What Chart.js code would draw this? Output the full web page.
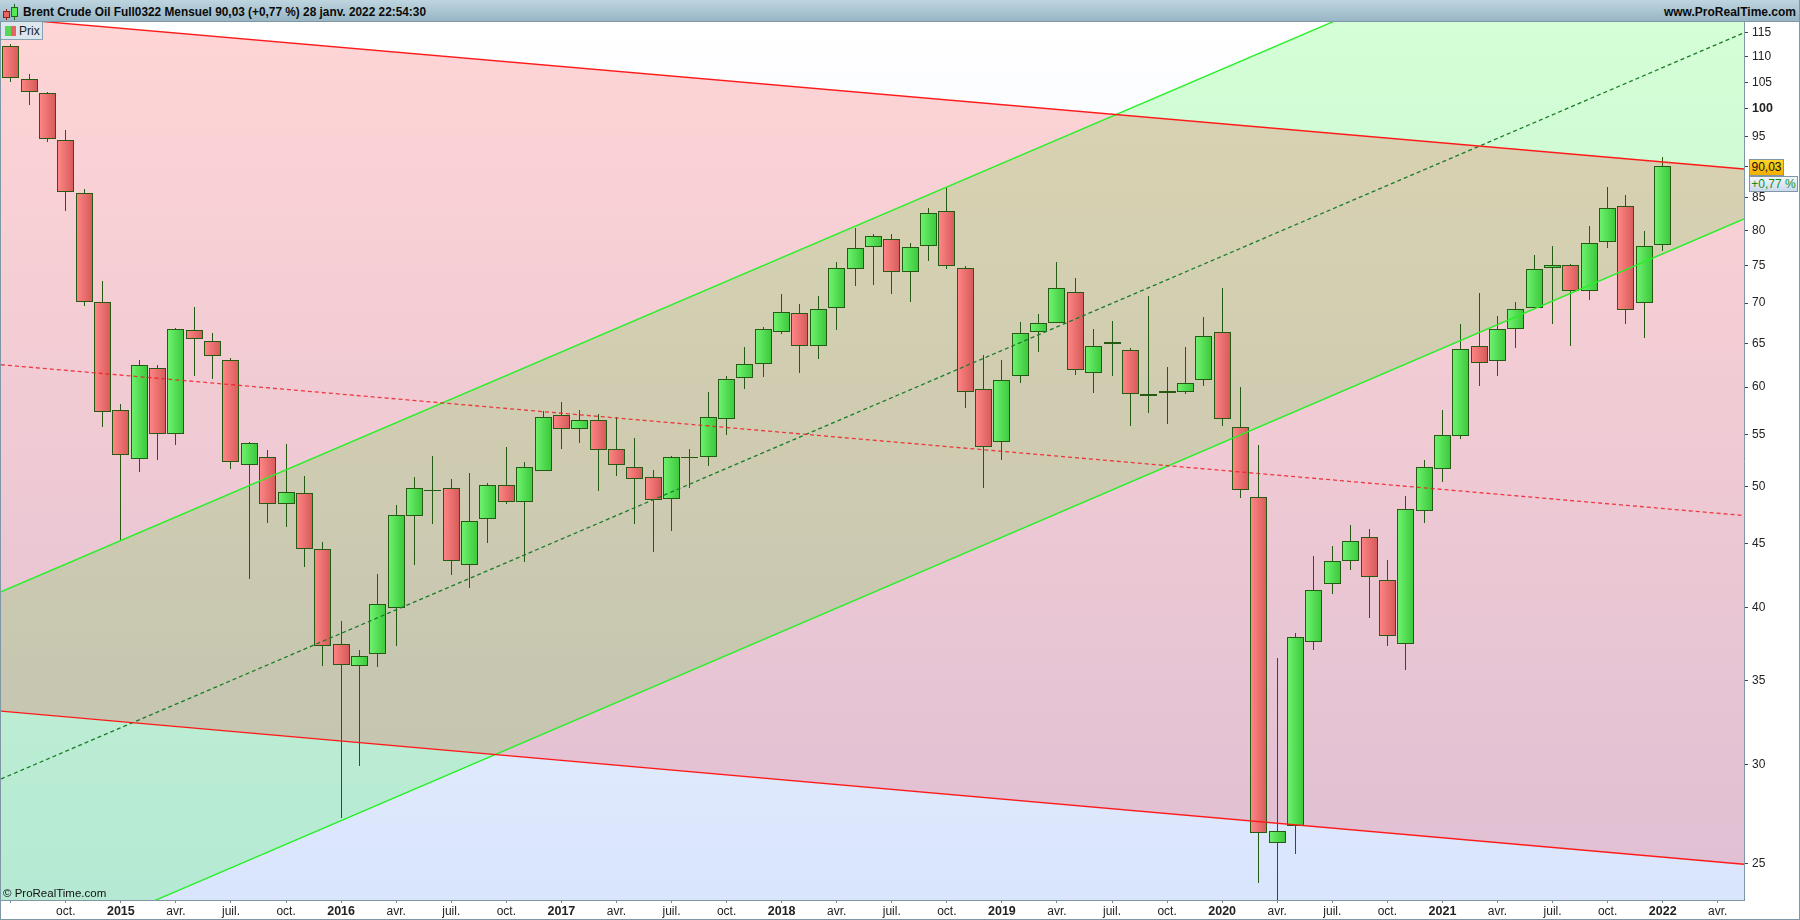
<!DOCTYPE html>
<html lang="fr">
<head>
<meta charset="utf-8">
<title>Brent Crude Oil</title>
<script src="https://cdn.jsdelivr.net/npm/chart.js@4"></script>
<style>
html,body{margin:0;padding:0;background:#fff;overflow:hidden}
#wrap{position:relative;width:1800px;height:920px;font-family:"Liberation Sans",Arial,sans-serif;color:#000}
canvas{position:absolute;left:0;top:0}
.abs{position:absolute;white-space:nowrap;box-sizing:border-box}
#head{left:0;top:0;width:1800px;height:22px;background:linear-gradient(#bed5e0,#98b6c4);border-bottom:1px solid #7f97a5}
#title{left:23px;top:5px;font-size:11.85px;font-weight:bold;line-height:14px;color:#0a0a0a}
#site{right:4px;top:5px;font-size:12px;font-weight:bold;line-height:14px;color:#0a0a0a}
#chip{left:0;top:22px;width:43px;height:18px;background:#dbe7ec;border:1px solid #8aa3b2;border-left:none;border-top:none}
#chipG{left:5px;top:25.5px;width:6px;height:10px;background:#55d855}
#chipR{left:11px;top:25.5px;width:5px;height:10px;background:#e86464}
#chipT{left:19px;top:24px;font-size:12px;line-height:14px;color:#222}
#copy{left:3px;top:886px;font-size:11.5px;line-height:14px;color:#111}
#tagP{left:1749px;top:159px;width:35px;height:17px;background:linear-gradient(#ffd42a,#f1ae00);border:1px solid #7f97a5;font-size:12px;line-height:15px;text-align:center;color:#111}
#tagC{left:1749px;top:176px;width:49px;height:16px;background:linear-gradient(#f4f6fb,#cbd9ee);border:1px solid #7f97a5;font-size:12px;line-height:14px;text-align:center;color:#159015}
#frameL{left:0;top:22px;width:1px;height:898px;background:#7f97a5}
#frameR{left:1799px;top:0;width:1px;height:920px;background:#7f97a5}
#frameB{left:0;top:919px;width:1800px;height:1px;background:#7f97a5}
.mini{position:absolute;box-sizing:border-box}
</style>
</head>
<body>
<div id="wrap">
<canvas id="c" width="1800" height="920"></canvas>
<div class="abs" id="head"></div>
<div class="mini" style="left:6px;top:9px;width:1px;height:11px;background:#8c2020"></div>
<div class="mini" style="left:3px;top:11px;width:7px;height:7px;background:#e86464;border:1px solid #8c2020"></div>
<div class="mini" style="left:14px;top:4px;width:1px;height:16px;background:#1d6a1d"></div>
<div class="mini" style="left:11px;top:7px;width:7px;height:10px;background:#55e855;border:1px solid #1d6a1d"></div>
<div class="abs" id="title">Brent Crude Oil Full0322 Mensuel 90,03 (+0,77 %) 28 janv. 2022 22:54:30</div>
<div class="abs" id="site">www.ProRealTime.com</div>
<div class="abs" id="chip"></div>
<div class="abs" id="chipG"></div>
<div class="abs" id="chipR"></div>
<div class="abs" id="chipT">Prix</div>
<div class="abs" id="copy">© ProRealTime.com</div>
<div class="abs" id="tagP">90,03</div>
<div class="abs" id="tagC">+0,77 %</div>
<div class="abs" id="frameL"></div>
<div class="abs" id="frameR"></div>
<div class="abs" id="frameB"></div>
</div>
<script>
// Monthly candles, first candle = juil. 2014, last = janv. 2022
const opens  = [112.25,105.65,102.98,94.44,85.74,70.13,57.57,52.63,62.18,55.04,66.66,65.30,63.10,51.96,52.82,48.37,49.42,44.59,37.45,35.94,36.76,39.99,47.33,49.57,49.85,43.27,47.07,50.13,48.63,51.47,57.05,55.57,56.52,53.59,51.86,50.90,48.89,52.71,52.82,56.64,61.03,62.64,66.41,68.76,64.70,69.38,74.53,77.63,78.76,74.13,77.77,82.93,74.67,59.79,54.27,61.26,66.41,67.52,71.47,61.60,65.17,64.24,59.05,59.37,59.47,60.80,66.41,55.74,49.07,26.00,26.80,37.59,41.78,43.57,45.58,42.10,37.45,47.76,51.67,54.85,64.70,62.98,66.78,69.38,74.67,75.07,71.60,78.34,83.62,70.00,77.91];
const highs  = [112.73,106.69,103.23,96.25,86.38,72.97,58.21,63.02,62.44,66.91,69.50,66.29,63.33,54.27,53.50,54.10,50.93,45.17,39.05,37.06,42.58,48.31,50.83,52.86,50.70,51.22,50.32,53.72,52.34,57.47,58.34,57.50,57.08,56.76,54.68,51.53,52.92,53.59,59.50,61.26,64.62,67.03,71.20,69.88,70.93,75.50,80.39,79.47,79.47,78.20,83.38,86.59,74.93,63.67,63.10,67.65,68.64,75.50,73.33,66.78,67.69,64.47,70.93,62.29,64.59,68.27,72.00,60.03,53.91,36.50,38.21,43.99,44.84,46.62,46.27,43.67,49.09,52.47,57.50,67.32,71.33,68.39,70.13,76.49,77.77,75.21,80.65,86.65,85.36,79.90,91.56];
const lows   = [105.10,100.77,94.03,82.86,69.70,55.74,45.26,51.34,52.50,53.94,61.21,60.87,51.63,42.22,46.77,46.42,43.15,35.98,27.22,29.90,35.92,37.28,43.31,46.68,42.53,41.52,45.03,48.42,43.54,51.40,53.55,54.13,49.56,50.96,46.65,44.32,46.07,49.90,51.92,55.00,59.85,61.10,66.11,61.63,63.16,66.61,72.21,72.35,71.15,70.21,75.58,74.53,57.74,49.90,52.50,60.41,63.97,67.45,61.33,59.32,61.21,55.84,57.26,56.05,59.29,60.18,55.84,48.95,24.14,23.20,25.47,37.01,41.05,42.92,39.28,37.28,35.70,46.77,50.44,54.52,60.17,61.21,64.43,69.32,67.35,64.66,70.35,77.43,67.35,65.62,77.01];
const closes = [105.77,103.17,94.61,85.85,70.13,57.36,53.02,62.48,55.04,66.78,65.54,63.55,52.25,54.17,48.37,49.50,44.59,37.31,36.00,36.62,40.30,47.41,49.85,49.66,43.57,46.89,50.13,48.63,51.86,56.84,55.57,56.52,53.50,52.05,50.70,48.81,52.73,52.80,56.84,60.92,62.64,66.78,68.89,64.70,69.26,74.67,77.49,79.19,74.13,77.63,82.63,74.93,59.47,53.79,60.80,66.29,67.50,72.00,61.95,64.70,64.93,59.26,59.26,59.58,60.43,65.92,56.64,49.68,26.45,26.55,37.93,41.32,43.57,45.21,42.33,38.00,47.94,51.77,54.93,64.36,62.75,66.78,69.26,74.53,75.07,71.60,78.20,83.44,69.13,77.77,90.03];

// Trend lines: [month index, price] at both ends of the plot
const upperGreen = [[-0.53,41.21],[94.43,162.1]];
const midGreen   = [[-0.53,29.22],[94.43,115.0]];
const lowerGreen = [[-0.53,20.71],[94.43,81.71]];
const upperRed   = [[-0.53,118.19],[94.43,89.55]];
const midRed     = [[-0.53,62.52],[94.43,47.40]];
const lowerRed   = [[-0.53,33.10],[94.43,24.99]];

// Axes
const xTickValues = [0,3,6,9,12,15,18,21,24,27,30,33,36,39,42,45,48,51,54,57,60,63,66,69,72,75,78,81,84,87,90,93];
const xTickLabels = ['','oct.','2015','avr.','juil.','oct.','2016','avr.','juil.','oct.','2017','avr.','juil.','oct.','2018','avr.','juil.','oct.','2019','avr.','juil.','oct.','2020','avr.','juil.','oct.','2021','avr.','juil.','oct.','2022','avr.'];
const yTickValues = [25,30,35,40,45,50,55,60,65,70,75,80,85,90,95,100,105,110,115];
const yHiddenLabels = [90];
const yBoldLabels = [100];
const xRange = [-0.53,94.43];
const yRange = [23.40,117.3];

const toXY = a => a.map(p => ({x:p[0],y:p[1]}));
const FONT = '"Liberation Sans",Arial,sans-serif';
const AXIS = '#7f97a5', WICK = '#255a12';

function bodyFill(ctx){
  const fallback = '#55d855';
  if(!ctx.raw) return fallback;
  const up = closes[ctx.dataIndex] >= opens[ctx.dataIndex];
  const px = ctx.chart.scales.x.getPixelForValue(ctx.raw.x);
  if(!Number.isFinite(px)) return fallback;
  const g = ctx.chart.ctx.createLinearGradient(px-8,0,px+8,0);
  g.addColorStop(0, up ? '#6ef26e' : '#ff8686');
  g.addColorStop(1, up ? '#3cc83c' : '#d65a5a');
  return g;
}

const crispBars = {
  id:'crispBars',
  afterDatasetsUpdate(chart){
    chart.getSortedVisibleDatasetMetas().forEach(m=>{
      if(m.type!=='bar') return;
      m.data.forEach(el=>{
        el.x = Math.floor(el.x)+0.5;
        el.y = Math.round(el.y);
        el.base = Math.round(el.base);
        if(el.y===el.base) el.base = el.y+1;
        el.height = el.base-el.y;
      });
    });
  }
};
const paperGradient = {
  id:'paperGradient',
  beforeDraw(chart){
    const {ctx,chartArea:a} = chart;
    const g = ctx.createLinearGradient(0,a.top,0,a.bottom);
    g.addColorStop(0,'#ffffff');
    g.addColorStop(1,'#d9e5fd');
    ctx.save();
    ctx.fillStyle = g;
    ctx.fillRect(a.left,a.top,a.right-a.left,a.bottom-a.top);
    ctx.restore();
  }
};
const line = (label,data,extra) => Object.assign({type:'line',label,data:toXY(data),pointRadius:0,borderWidth:1.4,tension:0,fill:false},extra);

new Chart(document.getElementById('c'),{
  type:'bar',
  data:{datasets:[
    line('Canal haut vert',upperGreen,{borderColor:'#28f028',order:-1,fill:{target:1,above:'rgba(0,255,0,0.165)',below:'rgba(0,255,0,0.165)'}}),
    line('Canal bas vert',lowerGreen,{borderColor:'#28f028',order:-1}),
    line('Médiane verte',midGreen,{borderColor:'rgba(25,125,40,1)',borderWidth:1.3,borderDash:[4,3],order:-1}),
    line('Canal haut rouge',upperRed,{borderColor:'#ff1a1a',order:-2,fill:{target:4,above:'rgba(255,0,0,0.165)',below:'rgba(255,0,0,0.165)'}}),
    line('Canal bas rouge',lowerRed,{borderColor:'#ff1a1a',order:-2}),
    line('Médiane rouge',midRed,{borderColor:'rgba(240,30,40,0.85)',borderWidth:1.3,borderDash:[4,3],order:-2}),
    {label:'Corps',data:opens.map((o,i)=>({x:i,y:[o,closes[i]]})),backgroundColor:bodyFill,borderColor:WICK,borderWidth:1,borderSkipped:false,inflateAmount:0,barThickness:17,grouped:false,order:1},
    {label:'Mèches',data:lows.map((l,i)=>({x:i,y:[l,highs[i]]})),backgroundColor:WICK,borderWidth:0,inflateAmount:0,barThickness:1,grouped:false,order:2}
  ]},
  options:{
    responsive:false,
    animation:false,
    devicePixelRatio:1,
    layout:{padding:{left:1,right:1,top:22,bottom:1}},
    plugins:{legend:{display:false},tooltip:{enabled:false},title:{display:false},filler:{drawTime:'beforeDatasetsDraw'}},
    events:[],
    scales:{
      x:{
        type:'linear',offset:false,min:xRange[0],max:xRange[1],position:'bottom',
        afterBuildTicks:s=>{s.ticks = xTickValues.map(v=>({value:v}));},
        afterFit:s=>{s.height = 19;},
        grid:{drawOnChartArea:false,tickLength:3,tickColor:'#6f8795',offset:false},
        border:{color:AXIS,width:1},
        ticks:{
          autoSkip:false,maxRotation:0,minRotation:0,padding:1,color:'#222',
          callback:v=>xTickLabels[xTickValues.indexOf(v)],
          font:c=>{const bold=c.tick&&/^\d/.test(xTickLabels[xTickValues.indexOf(c.tick.value)]||'');return {family:FONT,size:bold?12.5:12,weight:bold?'bold':'normal'};}
        }
      },
      y:{
        type:'logarithmic',min:yRange[0],max:yRange[1],position:'right',
        afterBuildTicks:s=>{s.ticks = yTickValues.map(v=>({value:v}));},
        afterFit:s=>{s.width = 55;},
        grid:{drawOnChartArea:false,tickLength:4,tickColor:'#444'},
        border:{color:AXIS,width:1},
        ticks:{
          autoSkip:false,padding:4,color:'#222',
          callback:v=>yHiddenLabels.includes(v)?'':String(v),
          font:c=>{const bold=c.tick&&yBoldLabels.includes(c.tick.value);return {family:FONT,size:bold?12.5:12,weight:bold?'bold':'normal'};}
        }
      }
    }
  },
  plugins:[paperGradient,crispBars]
});
</script>
</body>
</html>
